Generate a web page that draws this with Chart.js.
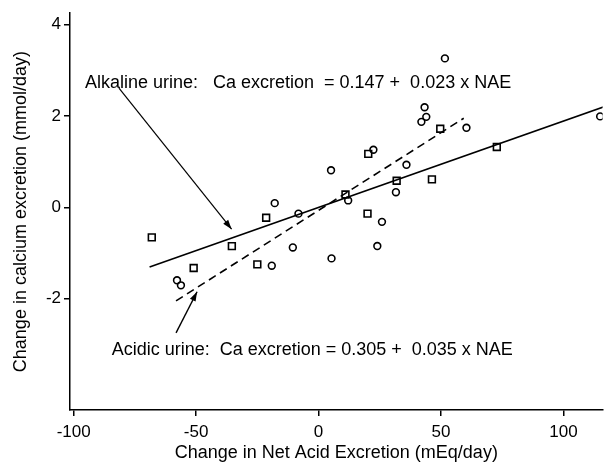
<!DOCTYPE html>
<html>
<head>
<meta charset="utf-8">
<script src="https://cdn.jsdelivr.net/npm/chart.js@4"></script>
<style>
  body { margin: 0; background: #fff; }
  #wrap { width: 609px; height: 464px; }
</style>
</head>
<body>
<div id="wrap"><canvas id="chart" width="609" height="464"></canvas></div>
<script>
// Squares (alkaline urine) and circles (acidic urine)
const squareX = [-68.1, -51.0, -35.4, -25.0, -21.4, 11.0, 20.0, 20.3, 31.9, 46.3, 49.7, 72.8];
const squareY = [-0.66, -1.33, -0.85, -1.25, -0.23, 0.28, -0.14, 1.17, 0.58, 0.61, 1.72, 1.32];
const circleX = [-57.8, -56.2, -19.1, -17.9, -8.2, -10.5, 5.3, 5.1, 12.1, 22.4, 25.9, 24.0, 31.6, 35.9, 43.3, 44.0, 42.0, 51.6, 60.4, 115.0];
const circleY = [-1.60, -1.71, -1.28, 0.09, -0.14, -0.88, -1.12, 0.81, 0.15, 1.26, -0.32, -0.85, 0.33, 0.93, 2.19, 1.98, 1.87, 3.26, 1.74, 1.99];

// fitted lines as drawn (end points)
const alkLineX = [-69.0, 116.5];
const alkLineY = [-1.31, 2.20];
const acidLineX = [-58.2, 59.3];
const acidLineY = [-2.05, 1.95];

// arrows (tail, head)
const alkArrowX = [-81.5, -35.5];
const alkArrowY = [2.61, -0.48];
const acidArrowX = [-58.2, -49.6];
const acidArrowY = [-2.75, -1.85];

const xTicks = [-100, -50, 0, 50, 100];
const yTicks = [-2, 0, 2, 4];

const alkText = "Alkaline urine:   Ca excretion  = 0.147 +  0.023 x NAE";
const acidText = "Acidic urine:  Ca excretion = 0.305 +  0.035 x NAE";

const pts = (xs, ys) => xs.map((v, i) => ({ x: v, y: ys[i] }));
const FONT = '"Liberation Sans", Arial, sans-serif';

const notes = {
    id: "notes",
    afterDatasetsDraw(chart) {
        const { ctx, scales: { x, y } } = chart;
        ctx.save();
        ctx.fillStyle = "#000";
        // arrow heads
        [[alkArrowX, alkArrowY], [acidArrowX, acidArrowY]].forEach(([ax, ay]) => {
            const x0 = x.getPixelForValue(ax[0]), y0 = y.getPixelForValue(ay[0]);
            const x1 = x.getPixelForValue(ax[1]), y1 = y.getPixelForValue(ay[1]);
            const a = Math.atan2(y1 - y0, x1 - x0);
            ctx.beginPath();
            ctx.moveTo(x1, y1);
            ctx.lineTo(x1 - 10 * Math.cos(a - 0.32), y1 - 10 * Math.sin(a - 0.32));
            ctx.lineTo(x1 - 10 * Math.cos(a + 0.32), y1 - 10 * Math.sin(a + 0.32));
            ctx.closePath();
            ctx.fill();
        });
        // equations
        ctx.font = "18px " + FONT;
        ctx.textBaseline = "middle";
        ctx.fillText(alkText, x.getPixelForValue(-95.4), y.getPixelForValue(2.72));
        ctx.fillText(acidText, x.getPixelForValue(-84.5), y.getPixelForValue(-3.12));
        ctx.restore();
    }
};

const lineSet = (xs, ys, dash, width) => ({
    type: "line",
    data: pts(xs, ys),
    borderColor: "#000",
    borderWidth: width,
    borderDash: dash,
    pointRadius: 0,
    fill: false
});

const ctx = document.getElementById("chart").getContext("2d");
new Chart(ctx, {
    type: "scatter",
    data: {
        datasets: [
            {
                label: "Alkaline urine",
                data: pts(squareX, squareY),
                pointStyle: "rect",
                pointRadius: 4.8,
                borderColor: "#000",
                backgroundColor: "rgba(255,255,255,0)",
                borderWidth: 1.6
            },
            {
                label: "Acidic urine",
                data: pts(circleX, circleY),
                pointStyle: "circle",
                pointRadius: 3.4,
                borderColor: "#000",
                backgroundColor: "rgba(255,255,255,0)",
                borderWidth: 1.6
            },
            lineSet(alkLineX, alkLineY, [], 1.6),
            lineSet(acidLineX, acidLineY, [8, 5], 1.6),
            lineSet(alkArrowX, alkArrowY, [], 1.2),
            lineSet(acidArrowX, acidArrowY, [], 1.4)
        ]
    },
    options: {
        responsive: false,
        animation: false,
        layout: { padding: { top: 13, right: 0, left: 0, bottom: 0 } },
        plugins: {
            legend: { display: false },
            tooltip: { enabled: false }
        },
        scales: {
            x: {
                type: "linear",
                min: -101.5,
                max: 116,
                afterBuildTicks: (axis) => { axis.ticks = xTicks.map(v => ({ value: v })); },
                afterFit: (scale) => { scale.height = 54; },
                border: { display: true, color: "#000", width: 1.5 },
                grid: { display: true, drawOnChartArea: false, color: "#000", lineWidth: 1.5, tickLength: 6 },
                ticks: { color: "#000", font: { family: FONT, size: 17 }, padding: 6, maxRotation: 0 },
                title: {
                    display: true,
                    text: "Change in Net Acid Excretion (mEq/day)",
                    color: "#000",
                    font: { family: FONT, size: 18 },
                    padding: { top: 0, bottom: 0 }
                }
            },
            y: {
                type: "linear",
                min: -4.44,
                max: 4.25,
                afterBuildTicks: (axis) => { axis.ticks = yTicks.map(v => ({ value: v })); },
                afterFit: (scale) => { scale.width = 70; },
                border: { display: true, color: "#000", width: 1.5 },
                grid: { display: true, drawOnChartArea: false, color: "#000", lineWidth: 1.5, tickLength: 6 },
                ticks: { color: "#000", font: { family: FONT, size: 17 }, padding: 3 },
                title: {
                    display: true,
                    text: "Change in calcium excretion (mmol/day)",
                    color: "#000",
                    font: { family: FONT, size: 18 },
                    padding: { top: 10, bottom: 0 }
                }
            }
        }
    },
    plugins: [notes]
});
</script>
</body>
</html>
